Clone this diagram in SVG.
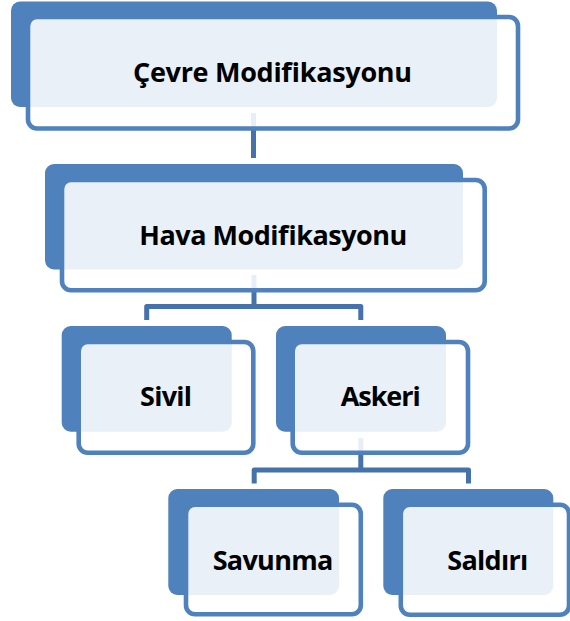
<svg xmlns="http://www.w3.org/2000/svg" width="570" height="621" viewBox="0 0 570 621">
<style>
.back{fill:#4F81BD}
.front{fill:#FFFFFF;fill-opacity:0.88;stroke:#4F81BD;stroke-width:4.6}
.lbl{font-family:"Open Sans","Liberation Sans",sans-serif;font-weight:700;font-size:27px;fill:#000;text-anchor:middle}
.conn{fill:none;stroke:#4572AA;stroke-width:5;stroke-linejoin:round}
</style>
<rect width="570" height="621" fill="#FFFFFF"/>
<g id="connectors">
<path class="conn" d="M253.5,113 V158"/>
<path class="conn" d="M254,275 V306.5"/>
<path class="conn" d="M146.7,320 V306.5 H360.8 V320"/>
<path class="conn" d="M360.8,438 V470"/>
<path class="conn" d="M254.2,483.5 V470 H468.5 V483.5"/>
</g>
<g id="node-cevre">
<rect class="back" x="11" y="1.5" width="486" height="105.5" rx="9"/>
<rect class="front" x="28" y="17" width="490" height="111.5" rx="9"/>
<text class="lbl" x="272.5" y="82" textLength="279">Çevre Modifikasyonu</text>
</g>
<g id="node-hava">
<rect class="back" x="45" y="164" width="418" height="105.5" rx="9"/>
<rect class="front" x="62" y="180" width="422.7" height="110.3" rx="9"/>
<text class="lbl" x="273.3" y="245" textLength="268">Hava Modifikasyonu</text>
</g>
<g id="node-sivil">
<rect class="back" x="61.7" y="326" width="170" height="105.7" rx="9"/>
<rect class="front" x="78.7" y="342" width="174.6" height="110.7" rx="9"/>
<text class="lbl" x="166" y="406" textLength="52">Sivil</text>
</g>
<g id="node-askeri">
<rect class="back" x="276" y="326" width="170" height="105.7" rx="9"/>
<rect class="front" x="292.7" y="342" width="175.3" height="110.7" rx="9"/>
<text class="lbl" x="380.7" y="406" textLength="80">Askeri</text>
</g>
<g id="node-savunma">
<rect class="back" x="168.3" y="489" width="170.7" height="106" rx="9"/>
<rect class="front" x="186" y="504.8" width="174.8" height="109.5" rx="9"/>
<text class="lbl" x="273" y="569.5" textLength="120.6">Savunma</text>
</g>
<g id="node-saldiri">
<rect class="back" x="383.3" y="489" width="170" height="106" rx="9"/>
<rect class="front" x="400.8" y="504.8" width="168.2" height="110" rx="9"/>
<text class="lbl" x="487.8" y="569.5" textLength="81">Saldırı</text>
</g>
</svg>
